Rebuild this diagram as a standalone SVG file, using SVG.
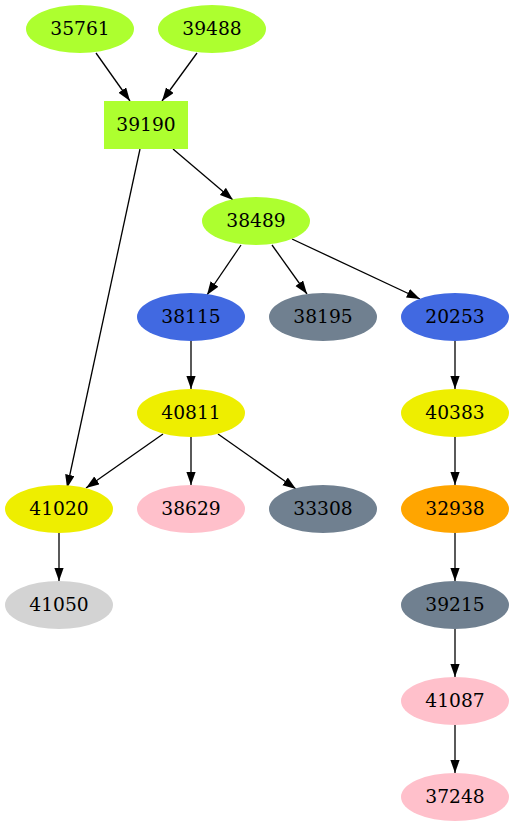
<svg xmlns="http://www.w3.org/2000/svg" width="514" height="827" viewBox="0 0 514 827">
<style>
text{font-family:"DejaVu Serif",serif;font-size:18.67px;text-anchor:middle;fill:#000}
.e line{stroke:#000;stroke-width:1.3;marker-end:url(#ah)}
.gy{fill:#adff2f}.rb{fill:#4169e1}.sg{fill:#708090}.y2{fill:#eeee00}.pk{fill:#ffc0cb}.or{fill:#ffa500}.lg{fill:#d3d3d3}
</style>
<defs>
<marker id="ah" markerUnits="userSpaceOnUse" markerWidth="14" markerHeight="10" refX="13.3" refY="4.7" orient="auto">
<path d="M0,0 L13.3,4.7 L0,9.4 z" fill="#000"/>
</marker>
</defs>
<rect width="514" height="827" fill="#fff"/>
<g class="e" id="edges">
<line x1="96" y1="53" x2="130" y2="101"/>
<line x1="197" y1="53" x2="162" y2="101"/>
<line x1="173" y1="149" x2="233" y2="200"/>
<line x1="140" y1="149" x2="67" y2="488"/>
<line x1="241" y1="245" x2="207" y2="295"/>
<line x1="272" y1="245" x2="307" y2="294"/>
<line x1="292" y1="239" x2="420" y2="299"/>
<line x1="191" y1="341" x2="191" y2="389"/>
<line x1="163" y1="434" x2="86" y2="488"/>
<line x1="191" y1="437" x2="191" y2="485"/>
<line x1="218" y1="434" x2="296" y2="489"/>
<line x1="59" y1="533" x2="59" y2="581"/>
<line x1="455" y1="341" x2="455" y2="389"/>
<line x1="455" y1="437" x2="455" y2="485"/>
<line x1="455" y1="533" x2="455" y2="581"/>
<line x1="455" y1="629" x2="455" y2="677"/>
<line x1="455" y1="725" x2="455" y2="773"/>
</g>
<g id="n35761"><ellipse class="gy" cx="80" cy="29" rx="54" ry="24"/><text x="80" y="35">35761</text></g>
<g id="n39488"><ellipse class="gy" cx="212" cy="29" rx="54" ry="24"/><text x="212" y="35">39488</text></g>
<g id="n39190"><rect class="gy" x="104" y="101" width="84" height="48"/><text x="146" y="131">39190</text></g>
<g id="n38489"><ellipse class="gy" cx="256" cy="221" rx="54" ry="24"/><text x="256" y="227">38489</text></g>
<g id="n38115"><ellipse class="rb" cx="191" cy="317" rx="54" ry="24"/><text x="191" y="323">38115</text></g>
<g id="n38195"><ellipse class="sg" cx="323" cy="317" rx="54" ry="24"/><text x="323" y="323">38195</text></g>
<g id="n20253"><ellipse class="rb" cx="455" cy="317" rx="54" ry="24"/><text x="455" y="323">20253</text></g>
<g id="n40811"><ellipse class="y2" cx="191" cy="413" rx="54" ry="24"/><text x="191" y="419">40811</text></g>
<g id="n40383"><ellipse class="y2" cx="455" cy="413" rx="54" ry="24"/><text x="455" y="419">40383</text></g>
<g id="n41020"><ellipse class="y2" cx="59" cy="509" rx="54" ry="24"/><text x="59" y="515">41020</text></g>
<g id="n38629"><ellipse class="pk" cx="191" cy="509" rx="54" ry="24"/><text x="191" y="515">38629</text></g>
<g id="n33308"><ellipse class="sg" cx="323" cy="509" rx="54" ry="24"/><text x="323" y="515">33308</text></g>
<g id="n32938"><ellipse class="or" cx="455" cy="509" rx="54" ry="24"/><text x="455" y="515">32938</text></g>
<g id="n41050"><ellipse class="lg" cx="59" cy="605" rx="54" ry="24"/><text x="59" y="611">41050</text></g>
<g id="n39215"><ellipse class="sg" cx="455" cy="605" rx="54" ry="24"/><text x="455" y="611">39215</text></g>
<g id="n41087"><ellipse class="pk" cx="455" cy="701" rx="54" ry="24"/><text x="455" y="707">41087</text></g>
<g id="n37248"><ellipse class="pk" cx="455" cy="797" rx="54" ry="24"/><text x="455" y="803">37248</text></g>
</svg>
